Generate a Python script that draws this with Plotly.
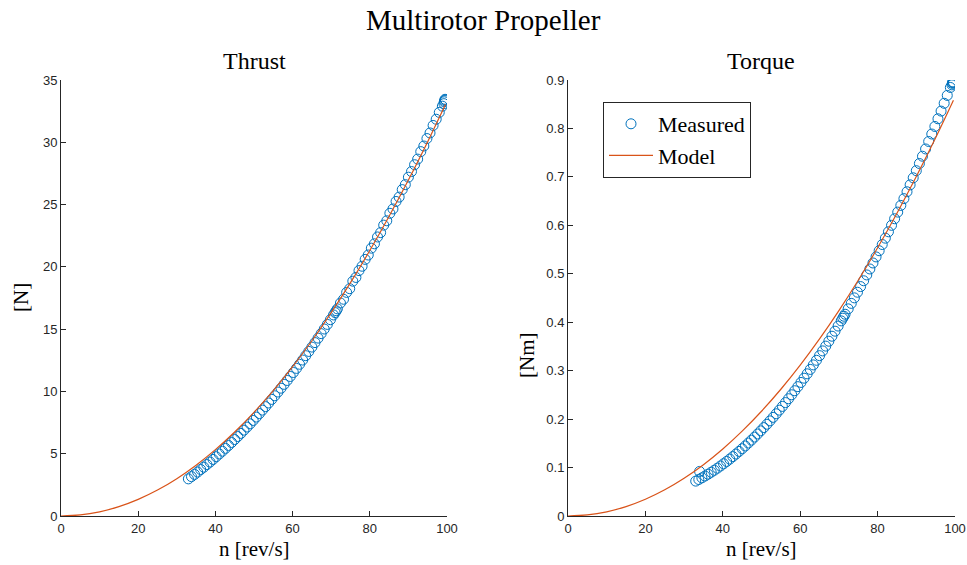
import plotly.graph_objects as go

# ---------------- data ----------------
n_meas = [33.0, 33.8, 34.6, 35.4, 36.2, 37.0, 37.8, 38.6, 39.4, 40.2, 41.0, 41.8, 42.6, 43.4,
          44.2, 45.0, 45.8, 46.6, 47.4, 48.2, 49.0, 49.8, 50.6, 51.4, 52.2, 53.0, 53.8, 54.6,
          55.4, 56.2, 57.0, 57.8, 58.6, 59.4, 60.2, 61.0, 61.8, 62.6, 63.4, 64.2, 65.0, 65.8,
          66.6, 67.4, 68.2, 69.0, 69.8, 70.6, 71.0, 71.3, 71.6, 72.4, 73.2, 74.0, 74.8, 75.6,
          76.4, 77.2, 78.0, 78.8, 79.6, 80.4, 81.2, 82.0, 82.8, 83.6, 84.4, 85.2, 86.0, 86.8,
          87.6, 88.4, 89.2, 90.0, 90.8, 91.6, 92.4, 93.2, 94.0, 94.8, 95.6, 96.4, 97.2, 98.0,
          98.8, 99.2, 99.3, 99.4, 99.5, 99.6]

thrust_meas = [2.98, 3.16, 3.34, 3.53, 3.73, 3.92, 4.13, 4.33, 4.54, 4.76, 4.98, 5.20, 5.43, 5.66,
               5.90, 6.14, 6.38, 6.63, 6.89, 7.14, 7.40, 7.67, 7.94, 8.22, 8.50, 8.78, 9.07, 9.36,
               9.65, 9.95, 10.26, 10.57, 10.88, 11.20, 11.52, 11.85, 12.18, 12.52, 12.87, 13.21, 13.56, 13.92,
               14.28, 14.64, 15.01, 15.38, 15.76, 16.14, 16.33, 16.48, 16.63, 17.10, 17.40, 17.95, 18.25, 18.85,
               19.15, 19.70, 20.05, 20.60, 20.95, 21.50, 21.85, 22.40, 22.75, 23.35, 23.70, 24.30, 24.65, 25.25,
               25.60, 26.20, 26.60, 27.20, 27.65, 28.20, 28.65, 29.25, 29.70, 30.30, 30.75, 31.35, 31.85, 32.40,
               32.90, 33.10, 33.25, 33.35, 33.45, 33.40]

torque_meas = [0.0720, 0.0753, 0.0788, 0.0825, 0.0863, 0.0903, 0.0944, 0.0987, 0.1032, 0.1078, 0.1126, 0.1175, 0.1226, 0.1279,
               0.1333, 0.1389, 0.1446, 0.1506, 0.1566, 0.1629, 0.1693, 0.1758, 0.1825, 0.1894, 0.1964, 0.2036, 0.2110, 0.2185,
               0.2262, 0.2341, 0.2421, 0.2502, 0.2586, 0.2670, 0.2757, 0.2845, 0.2935, 0.3026, 0.3119, 0.3214, 0.3310, 0.3408,
               0.3507, 0.3608, 0.3711, 0.3815, 0.3921, 0.4028, 0.4083, 0.4124, 0.4165, 0.4276, 0.4389, 0.4503, 0.4619, 0.4736,
               0.4856, 0.4976, 0.5099, 0.5223, 0.5348, 0.5476, 0.5604, 0.5735, 0.5867, 0.6000, 0.6136, 0.6273, 0.6411, 0.6551,
               0.6693, 0.6836, 0.6981, 0.7128, 0.7276, 0.7426, 0.7577, 0.7731, 0.7885, 0.8041, 0.8199, 0.8358, 0.8519, 0.8682,
               0.8846, 0.8900, 0.8930, 0.8950, 0.8960, 0.8940]

n_extra = [34.0]
torque_extra = [0.092]

n_model = [0, 5, 10, 15, 20, 25, 30, 35, 40, 45, 50, 55, 60, 65, 70, 75, 80, 85, 90, 95, 99.6]
thrust_model = [0, 0.083, 0.333, 0.749, 1.332, 2.081, 2.997, 4.079, 5.328, 6.743, 8.325, 10.07,
                11.99, 14.07, 16.32, 18.73, 21.31, 24.06, 26.97, 30.05, 33.03]
torque_model = [0, 0.00216, 0.00865, 0.01946, 0.0346, 0.05406, 0.07785, 0.10596, 0.1384, 0.17516,
                0.21625, 0.26166, 0.3114, 0.36546, 0.42385, 0.48656, 0.5536, 0.62496, 0.70065,
                0.78066, 0.8581]

x_ticks = [0, 20, 40, 60, 80, 100]
thrust_ticks = [0, 5, 10, 15, 20, 25, 30, 35]
torque_ticks = [0, 0.1, 0.2, 0.3, 0.4, 0.5, 0.6, 0.7, 0.8, 0.9]

# ---------------- style ----------------
BLUE = "#0072BD"
ORANGE = "#D95319"
AX = "#262626"
SERIF = "Liberation Serif"
SANS = "Liberation Sans"
W, H = 967, 565

def px(x):
    return x / W

def py(y):
    return 1 - y / H

fig = go.Figure()
marker = dict(symbol="circle-open", size=10, color=BLUE, line=dict(width=1, color=BLUE))
fig.add_trace(go.Scatter(x=n_meas, y=thrust_meas, mode="markers", marker=marker,
                         xaxis="x", yaxis="y", showlegend=False))
fig.add_trace(go.Scatter(x=n_model, y=thrust_model, mode="lines", line=dict(color=ORANGE, width=1.2, shape="spline"),
                         xaxis="x", yaxis="y", showlegend=False))
fig.add_trace(go.Scatter(x=n_meas + n_extra, y=torque_meas + torque_extra, mode="markers", marker=marker,
                         xaxis="x2", yaxis="y2", name="Measured"))
fig.add_trace(go.Scatter(x=n_model, y=torque_model, mode="lines", line=dict(color=ORANGE, width=1.2, shape="spline"),
                         xaxis="x2", yaxis="y2", name="Model"))

ax_common = dict(showline=True, linecolor=AX, linewidth=1, mirror=False, showgrid=False, zeroline=False,
                 ticks="inside", ticklen=5, tickcolor=AX, tickwidth=1,
                 tickfont=dict(family=SANS, size=13, color=AX), automargin=False)

ydom = [py(516), py(80)]
fig.update_layout(
    width=W, height=H, margin=dict(l=0, r=0, t=0, b=0),
    paper_bgcolor="white", plot_bgcolor="white",
    xaxis=dict(domain=[px(61), px(447)], range=[0, 100], tickvals=x_ticks, anchor="y", **ax_common),
    yaxis=dict(domain=ydom, range=[0, 35], tickvals=thrust_ticks, anchor="x", **ax_common),
    xaxis2=dict(domain=[px(568), px(955)], range=[0, 100], tickvals=x_ticks, anchor="y2", **ax_common),
    yaxis2=dict(domain=ydom, range=[0, 0.9], tickvals=torque_ticks, anchor="x2", **ax_common),
    legend=dict(x=px(603), y=py(102), xanchor="left", yanchor="top",
                bordercolor=AX, borderwidth=1, bgcolor="white",
                font=dict(family=SERIF, size=22, color="black"), tracegroupgap=0,
                itemwidth=44),
    showlegend=True,
)

ann = [
    dict(text="Multirotor Propeller", x=0.5, y=py(20), size=29),
    dict(text="Thrust", x=px(254), y=py(61), size=24),
    dict(text="Torque", x=px(761), y=py(61), size=24),
    dict(text="n [rev/s]", x=px(254), y=py(549), size=21),
    dict(text="n [rev/s]", x=px(761), y=py(549), size=21),
]
for a in ann:
    fig.add_annotation(text=a["text"], x=a["x"], y=a["y"], xref="paper", yref="paper",
                       xanchor="center", yanchor="middle", showarrow=False,
                       font=dict(family=SERIF, size=a["size"], color="black"))
fig.add_annotation(text="[N]", x=px(21), y=py(298), xref="paper", yref="paper", textangle=-90,
                   xanchor="center", yanchor="middle", showarrow=False,
                   font=dict(family=SERIF, size=21, color="black"))
fig.add_annotation(text="[Nm]", x=px(527), y=py(355), xref="paper", yref="paper", textangle=-90,
                   xanchor="center", yanchor="middle", showarrow=False,
                   font=dict(family=SERIF, size=21, color="black"))

fig.write_html("out.html")
